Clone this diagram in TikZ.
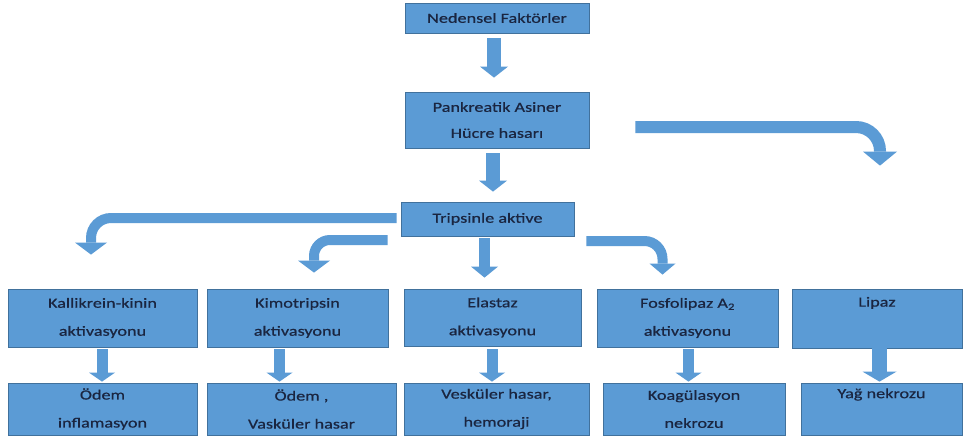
\documentclass[tikz,border=0pt]{standalone}
\usepackage{fontspec}
\setmainfont{Carlito}[FakeStretch=1.3,FakeBold=0.6]
\usetikzlibrary{arrows.meta,calc}
\definecolor{bfill}{HTML}{5B9BD5}
\definecolor{bdraw}{HTML}{41719C}
\definecolor{btext}{HTML}{1A2540}
\begin{document}
\begin{tikzpicture}[x=1pt,y=-1pt,
  box/.style={draw=bdraw, fill=bfill, line width=0.8pt, inner sep=0pt, align=center,
    text=btext, font=\fontsize{14}{28}\selectfont},
  vbar/.style={draw=bfill, line width=14pt, -{Triangle[width=28pt,length=11pt,line width=0pt]}},
  mbar/.style={draw=bfill, line width=11pt, -{Triangle[width=27pt,length=11pt,line width=0pt]}},
  sbar/.style={draw=bfill, line width=11pt, -{Triangle[width=26pt,length=9pt,line width=0pt]}},
  lbar/.style={draw=bfill, line width=15pt, -{Triangle[width=34pt,length=10pt,line width=0pt]}},
  bent/.style={draw=bfill, line width=10pt}
]
\useasboundingbox (0,0) rectangle (963,439);
\fill[white] (0,0) rectangle (963,439);

\node[box, minimum width=184pt, minimum height=30pt] (ned) at (497,18) {Nedensel Faktörler};
\node[box, minimum width=184pt, minimum height=56pt, font=\fontsize{14}{26}\selectfont] (pank) at (497,120) {Pankreatik Asiner\\Hücre hasarı};
\node[box, minimum width=173pt, minimum height=34pt] (trip) at (487.5,219) {Tripsinle aktive};

\node[box, minimum width=189pt, minimum height=58pt] (kal) at (102.5,318) {Kallikrein-kinin\\aktivasyonu};
\node[box, minimum width=181pt, minimum height=58pt] (kim) at (297.5,318) {Kimotripsin\\aktivasyonu};
\node[box, minimum width=177pt, minimum height=57pt] (ela) at (492.5,317.5) {Elastaz\\aktivasyonu};
\node[box, minimum width=181pt, minimum height=58pt] (fos) at (687.5,318) {Fosfolipaz A\textsubscript{2}\\aktivasyonu};
\node[box, minimum width=170pt, minimum height=59pt] (lip) at (877,318.5) {\raisebox{-3pt}{Lipaz}\\\strut};

\node[box, minimum width=189pt, minimum height=52pt] (od1) at (102.5,409) {Ödem\\inflamasyon};
\node[box, minimum width=189pt, minimum height=52pt] (od2) at (301.5,409) {Ödem ,\\Vasküler hasar};
\node[box, minimum width=185pt, minimum height=52pt] (ves) at (496.5,409) {Vesküler hasar,\\hemoraji};
\node[box, minimum width=182pt, minimum height=52pt] (koa) at (694,409) {Koagülasyon\\nekrozu};
\node[box, minimum width=161pt, minimum height=52pt] (yag) at (881.5,409) {\raisebox{-6pt}{Yağ nekrozu}\\\strut};

% straight block arrows
\draw[vbar] ([xshift=-3pt,yshift=-5pt]ned.south) -- ([xshift=-3pt,yshift=14pt]pank.north);
\draw[vbar] ([xshift=-4pt,yshift=-5pt]pank.south) -- ([xshift=5.5pt,yshift=10pt]trip.north);
\draw[mbar] ([xshift=-3pt,yshift=-2pt]trip.south) -- ([xshift=-8pt,yshift=11pt]ela.north);

\draw[sbar] ([xshift=-0.5pt,yshift=-2pt]kal.south) -- ([xshift=-0.5pt,yshift=1pt]od1.north);
\draw[sbar] ([xshift=-18pt,yshift=-2pt]kim.south) -- ([xshift=-22pt,yshift=1pt]od2.north);
\draw[sbar] ([xshift=-0.5pt,yshift=-3pt]ela.south) -- ([xshift=-4.5pt,yshift=1pt]ves.north);
\draw[sbar] ([xshift=1pt,yshift=-2pt]fos.south) -- ([xshift=-5.5pt,yshift=1pt]koa.north);
\draw[lbar] ([xshift=2.5pt,yshift=0pt]lip.south) -- ([xshift=-2pt,yshift=1pt]yag.north);

% bent block arrows
\draw[bent, rounded corners=20pt, -{Triangle[width=32pt,length=12pt,line width=0pt]}]
  ([xshift=-4pt,yshift=1pt]trip.west) -| ([xshift=-11.5pt,yshift=34pt]kal.north);
\draw[bent, rounded corners=16pt, -{Triangle[width=32pt,length=12pt,line width=0pt]}]
  ([xshift=-13pt,yshift=-21pt]trip.west) -| ([xshift=16.5pt,yshift=16pt]kim.north);
\draw[bent, rounded corners=18pt, -{Triangle[width=26pt,length=11pt,line width=0pt]}]
  ([xshift=12pt,yshift=-22pt]trip.east) -| ([xshift=-25pt,yshift=14pt]fos.north);
\draw[bent, line width=12pt, rounded corners=24pt, -{Triangle[width=34pt,length=14pt,line width=0pt]}]
  ([xshift=46pt,yshift=-7pt]pank.east) -| ([xshift=3pt,yshift=123pt]lip.north);
\end{tikzpicture}
\end{document}
